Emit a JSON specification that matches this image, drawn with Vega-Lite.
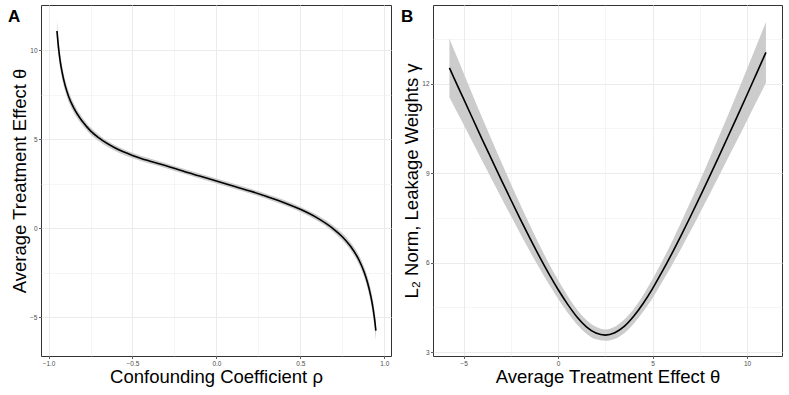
{
  "$schema": "https://vega.github.io/schema/vega-lite/v6.json",
  "background": "white",
  "padding": {"left": 7, "top": 4, "right": 5, "bottom": 5},
  "config": {
    "font": "Liberation Sans",
    "view": {"stroke": "#333333", "strokeWidth": 1},
    "concat": {"spacing": 8},
    "axis": {
      "domain": false,
      "grid": true,
      "gridColor": "#ebebeb",
      "tickColor": "#333333",
      "tickSize": 2.5,
      "tickWidth": 0.8,
      "labelFont": "Liberation Sans",
      "labelFontSize": 6.5,
      "labelColor": "#4d4d4d",
      "labelPadding": 1.5,
      "labelOverlap": false,
      "labelBound": false,
      "labelFlush": false,
      "titleFont": "Liberation Sans",
      "titleFontSize": 18.5,
      "titleFontWeight": "normal",
      "titleColor": "black"
    },
    "axisX": {"titlePadding": 1},
    "axisY": {"titlePadding": 0.5},
    "title": {"anchor": "start", "frame": "group", "fontSize": 17, "fontWeight": "bold", "color": "black", "font": "Liberation Sans", "offset": -21}
  },
  "datasets": {
    "panelA": [
      {"rho": -0.95, "theta": 11.07, "lo": 10.51, "hi": 11.63},
      {"rho": -0.94, "theta": 10.08, "lo": 9.60, "hi": 10.56},
      {"rho": -0.93, "theta": 9.34, "lo": 8.92, "hi": 9.76},
      {"rho": -0.92, "theta": 8.79, "lo": 8.41, "hi": 9.17},
      {"rho": -0.90, "theta": 7.97, "lo": 7.64, "hi": 8.30},
      {"rho": -0.88, "theta": 7.38, "lo": 7.08, "hi": 7.68},
      {"rho": -0.85, "theta": 6.75, "lo": 6.49, "hi": 7.01},
      {"rho": -0.80, "theta": 6.01, "lo": 5.79, "hi": 6.23},
      {"rho": -0.75, "theta": 5.46, "lo": 5.26, "hi": 5.66},
      {"rho": -0.70, "theta": 5.06, "lo": 4.88, "hi": 5.24},
      {"rho": -0.60, "theta": 4.48, "lo": 4.32, "hi": 4.64},
      {"rho": -0.50, "theta": 4.08, "lo": 3.93, "hi": 4.23},
      {"rho": -0.40, "theta": 3.77, "lo": 3.62, "hi": 3.92},
      {"rho": -0.30, "theta": 3.50, "lo": 3.36, "hi": 3.64},
      {"rho": -0.20, "theta": 3.20, "lo": 3.06, "hi": 3.34},
      {"rho": -0.10, "theta": 2.92, "lo": 2.78, "hi": 3.06},
      {"rho": 0.00, "theta": 2.64, "lo": 2.50, "hi": 2.78},
      {"rho": 0.10, "theta": 2.36, "lo": 2.22, "hi": 2.50},
      {"rho": 0.20, "theta": 2.08, "lo": 1.94, "hi": 2.22},
      {"rho": 0.30, "theta": 1.77, "lo": 1.63, "hi": 1.91},
      {"rho": 0.40, "theta": 1.44, "lo": 1.29, "hi": 1.59},
      {"rho": 0.50, "theta": 1.05, "lo": 0.90, "hi": 1.20},
      {"rho": 0.60, "theta": 0.57, "lo": 0.41, "hi": 0.73},
      {"rho": 0.70, "theta": -0.07, "lo": -0.25, "hi": 0.11},
      {"rho": 0.75, "theta": -0.49, "lo": -0.69, "hi": -0.29},
      {"rho": 0.80, "theta": -1.04, "lo": -1.26, "hi": -0.82},
      {"rho": 0.85, "theta": -1.81, "lo": -2.07, "hi": -1.55},
      {"rho": 0.88, "theta": -2.47, "lo": -2.77, "hi": -2.17},
      {"rho": 0.90, "theta": -3.06, "lo": -3.39, "hi": -2.73},
      {"rho": 0.92, "theta": -3.84, "lo": -4.22, "hi": -3.46},
      {"rho": 0.93, "theta": -4.34, "lo": -4.76, "hi": -3.92},
      {"rho": 0.94, "theta": -4.96, "lo": -5.44, "hi": -4.48},
      {"rho": 0.95, "theta": -5.76, "lo": -6.32, "hi": -5.20}
    ],
    "panelB": [
      {"theta": -5.75, "gamma": 12.53, "lo": 11.55, "hi": 13.51},
      {"theta": -5.5, "gamma": 12.18, "lo": 11.24, "hi": 13.12},
      {"theta": -5.0, "gamma": 11.49, "lo": 10.63, "hi": 12.36},
      {"theta": -4.5, "gamma": 10.80, "lo": 10.01, "hi": 11.59},
      {"theta": -4.0, "gamma": 10.11, "lo": 9.39, "hi": 10.83},
      {"theta": -3.5, "gamma": 9.44, "lo": 8.78, "hi": 10.10},
      {"theta": -3.0, "gamma": 8.77, "lo": 8.17, "hi": 9.37},
      {"theta": -2.5, "gamma": 8.11, "lo": 7.57, "hi": 8.65},
      {"theta": -2.0, "gamma": 7.46, "lo": 6.97, "hi": 7.95},
      {"theta": -1.5, "gamma": 6.83, "lo": 6.39, "hi": 7.27},
      {"theta": -1.0, "gamma": 6.22, "lo": 5.83, "hi": 6.61},
      {"theta": -0.5, "gamma": 5.64, "lo": 5.29, "hi": 5.99},
      {"theta": 0.0, "gamma": 5.10, "lo": 4.79, "hi": 5.42},
      {"theta": 0.5, "gamma": 4.61, "lo": 4.33, "hi": 4.89},
      {"theta": 1.0, "gamma": 4.18, "lo": 3.93, "hi": 4.43},
      {"theta": 1.5, "gamma": 3.85, "lo": 3.62, "hi": 4.08},
      {"theta": 2.0, "gamma": 3.64, "lo": 3.43, "hi": 3.85},
      {"theta": 2.5, "gamma": 3.57, "lo": 3.38, "hi": 3.76},
      {"theta": 3.0, "gamma": 3.65, "lo": 3.44, "hi": 3.85},
      {"theta": 3.5, "gamma": 3.86, "lo": 3.63, "hi": 4.09},
      {"theta": 4.0, "gamma": 4.20, "lo": 3.95, "hi": 4.45},
      {"theta": 4.5, "gamma": 4.63, "lo": 4.35, "hi": 4.91},
      {"theta": 5.0, "gamma": 5.13, "lo": 4.81, "hi": 5.45},
      {"theta": 5.5, "gamma": 5.69, "lo": 5.34, "hi": 6.04},
      {"theta": 6.0, "gamma": 6.28, "lo": 5.89, "hi": 6.67},
      {"theta": 6.5, "gamma": 6.90, "lo": 6.46, "hi": 7.34},
      {"theta": 7.0, "gamma": 7.54, "lo": 7.05, "hi": 8.03},
      {"theta": 7.5, "gamma": 8.20, "lo": 7.66, "hi": 8.74},
      {"theta": 8.0, "gamma": 8.87, "lo": 8.27, "hi": 9.47},
      {"theta": 8.5, "gamma": 9.55, "lo": 8.89, "hi": 10.21},
      {"theta": 9.0, "gamma": 10.24, "lo": 9.52, "hi": 10.96},
      {"theta": 9.5, "gamma": 10.93, "lo": 10.14, "hi": 11.72},
      {"theta": 10.0, "gamma": 11.63, "lo": 10.77, "hi": 12.50},
      {"theta": 10.5, "gamma": 12.34, "lo": 11.40, "hi": 13.28},
      {"theta": 11.0, "gamma": 13.05, "lo": 12.03, "hi": 14.07}
    ]
  },
  "hconcat": [
    {
      "width": 350,
      "height": 351,
      "title": {"text": "A", "dx": -33},
      "data": {"name": "panelA"},
      "encoding": {
        "x": {
          "field": "rho", "type": "quantitative",
          "scale": {"domain": [-1.045, 1.04], "nice": false, "zero": false},
          "axis": {
            "title": "Confounding Coefficient ρ",
            "values": [-1, -0.75, -0.5, -0.25, 0, 0.25, 0.5, 0.75, 1],
            "format": ".1f",
            "labelExpr": "abs(datum.value*2 - round(datum.value*2)) > 0.01 ? '' : datum.label",
            "tickOpacity": {"condition": {"test": "abs(datum.value*2 - round(datum.value*2)) > 0.01", "value": 0}, "value": 1},
            "gridWidth": {"condition": {"test": "abs(datum.value*2 - round(datum.value*2)) > 0.01", "value": 0.5}, "value": 1}
          }
        }
      },
      "layer": [
        {
          "mark": {"type": "area", "color": "#cccccc", "opacity": 1, "interpolate": "monotone"},
          "encoding": {
            "y": {
              "field": "lo", "type": "quantitative",
              "scale": {"domain": [-7.19, 12.53], "nice": false, "zero": false},
              "axis": {
                "title": "Average Treatment Effect θ",
                "values": [-5, -2.5, 0, 2.5, 5, 7.5, 10],
                "format": ".0f",
                "labelExpr": "datum.value % 5 != 0 ? '' : datum.label",
                "tickOpacity": {"condition": {"test": "datum.value % 5 != 0", "value": 0}, "value": 1},
                "gridWidth": {"condition": {"test": "datum.value % 5 != 0", "value": 0.5}, "value": 1}
              }
            },
            "y2": {"field": "hi"}
          }
        },
        {
          "mark": {"type": "line", "color": "black", "strokeWidth": 1.6, "interpolate": "monotone"},
          "encoding": {
            "y": {
              "field": "theta", "type": "quantitative",
              "scale": {"domain": [-7.19, 12.53], "nice": false, "zero": false},
              "axis": {
                "title": "Average Treatment Effect θ",
                "values": [-5, -2.5, 0, 2.5, 5, 7.5, 10],
                "format": ".0f",
                "labelExpr": "datum.value % 5 != 0 ? '' : datum.label",
                "tickOpacity": {"condition": {"test": "datum.value % 5 != 0", "value": 0}, "value": 1},
                "gridWidth": {"condition": {"test": "datum.value % 5 != 0", "value": 0.5}, "value": 1}
              }
            }
          }
        }
      ]
    },
    {
      "width": 349,
      "height": 351,
      "title": {"text": "B", "dx": -32},
      "data": {"name": "panelB"},
      "encoding": {
        "x": {
          "field": "theta", "type": "quantitative",
          "scale": {"domain": [-6.62, 11.85], "nice": false, "zero": false},
          "axis": {
            "title": "Average Treatment Effect θ",
            "values": [-5, -2.5, 0, 2.5, 5, 7.5, 10],
            "format": ".0f",
            "labelExpr": "datum.value % 5 != 0 ? '' : datum.label",
            "tickOpacity": {"condition": {"test": "datum.value % 5 != 0", "value": 0}, "value": 1},
            "gridWidth": {"condition": {"test": "datum.value % 5 != 0", "value": 0.5}, "value": 1}
          }
        }
      },
      "layer": [
        {
          "mark": {"type": "area", "color": "#cccccc", "opacity": 1, "interpolate": "monotone"},
          "encoding": {
            "y": {
              "field": "lo", "type": "quantitative",
              "scale": {"domain": [2.87, 14.64], "nice": false, "zero": false},
              "axis": {
                "title": "L₂ Norm, Leakage Weights γ",
                "values": [3, 4.5, 6, 7.5, 9, 10.5, 12, 13.5],
                "format": ".0f",
                "labelExpr": "datum.value % 3 != 0 ? '' : datum.label",
                "tickOpacity": {"condition": {"test": "datum.value % 3 != 0", "value": 0}, "value": 1},
                "gridWidth": {"condition": {"test": "datum.value % 3 != 0", "value": 0.5}, "value": 1}
              }
            },
            "y2": {"field": "hi"}
          }
        },
        {
          "mark": {"type": "line", "color": "black", "strokeWidth": 1.6, "interpolate": "monotone"},
          "encoding": {
            "y": {
              "field": "gamma", "type": "quantitative",
              "scale": {"domain": [2.87, 14.64], "nice": false, "zero": false},
              "axis": {
                "title": "L₂ Norm, Leakage Weights γ",
                "values": [3, 4.5, 6, 7.5, 9, 10.5, 12, 13.5],
                "format": ".0f",
                "labelExpr": "datum.value % 3 != 0 ? '' : datum.label",
                "tickOpacity": {"condition": {"test": "datum.value % 3 != 0", "value": 0}, "value": 1},
                "gridWidth": {"condition": {"test": "datum.value % 3 != 0", "value": 0.5}, "value": 1}
              }
            }
          }
        }
      ]
    }
  ]
}
